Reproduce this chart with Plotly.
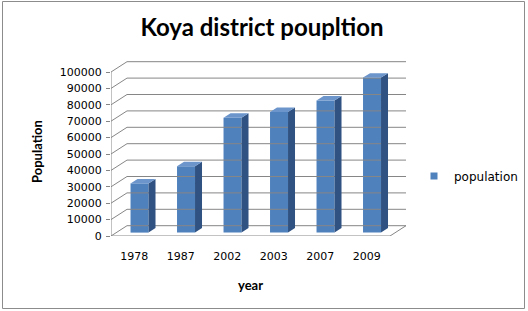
import plotly.graph_objects as go

# ---- data ----
years = ["1978", "1987", "2002", "2003", "2007", "2009"]
population = [30000, 40500, 70000, 73500, 80500, 94500]
y_ticks = list(range(0, 100001, 10000))
series_name = "population"

# ---- geometry (pixels) ----
W, H = 528, 311
L, R, T, B = 111, 122, 61, 75
PW, PH = W - L - R, H - T - B
cat_px = 46.5                      # px per category
unit_px = 0.00164                  # px per population unit
x0 = -0.5
x1 = x0 + PW / cat_px
y1 = PH / unit_px
ddx = 16 / cat_px                  # depth offset (category units)
ddy = 10.3 / unit_px               # depth offset (value units)
n = len(years)

# bar placement inside the depth
f = 0.33
bar_w = 18 / cat_px
side = 0.15
side_dy = side / ddx * ddy

FRONT = "#4F81BD"
SIDE = "#2F5283"
TOP = "#6C95CB"
GRID = "#868686"

def px_x(px):
    return (px - L) / PW

def px_y(py):
    return (H - B - py) / PH

fig = go.Figure()

# walls / gridlines
gx, gy = [], []
for v in y_ticks:
    gx += [x0, x0 + ddx, n - 0.5 + ddx, None]
    gy += [v, v + ddy, v + ddy, None]
gx += [x0, n - 0.5, n - 0.5 + ddx, None, x0, x0]
gy += [0, 0, ddy, None, 0, y_ticks[-1]]
fig.add_trace(go.Scatter(x=gx, y=gy, mode="lines", line=dict(color=GRID, width=1),
                         hoverinfo="skip", showlegend=False))

# front faces of bars
xs = [i + f * ddx for i in range(n)]
base = f * ddy
fig.add_trace(go.Bar(x=xs, y=population, base=[base] * n, width=bar_w,
                     marker=dict(color=FRONT, line=dict(width=0)),
                     name=series_name, showlegend=False))

# side and top faces
sx, sy, tx, ty = [], [], [], []
for xc, v in zip(xs, population):
    r = xc + bar_w / 2
    l = xc - bar_w / 2
    top = base + v
    sx += [r, r + side, r + side, r, r, None]
    sy += [base, base + side_dy, top + side_dy, top, base, None]
    tx += [l, r, r + side, l + side, l, None]
    ty += [top, top, top + side_dy, top + side_dy, top, None]
fig.add_trace(go.Scatter(x=sx, y=sy, mode="lines", fill="toself", fillcolor=SIDE,
                         line=dict(width=0, color=SIDE), hoverinfo="skip", showlegend=False))
fig.add_trace(go.Scatter(x=tx, y=ty, mode="lines", fill="toself", fillcolor=TOP,
                         line=dict(width=0, color=TOP), hoverinfo="skip", showlegend=False))

# legend entry
fig.add_trace(go.Scatter(x=[None], y=[None], mode="markers", name=series_name,
                         marker=dict(symbol="square", size=7, color=FRONT)))

tick_font = dict(family="DejaVu Sans", size=11, color="#000000")

fig.update_layout(
    width=W, height=H,
    margin=dict(l=L, r=R, t=T, b=B, pad=0, autoexpand=False),
    paper_bgcolor="white", plot_bgcolor="white",
    title=dict(text="<b>Koya district poupltion</b>", x=262 / W, y=1 - 28 / H,
               xanchor="center", yanchor="middle",
               font=dict(family="Lato", size=24, color="#000000")),
    xaxis=dict(range=[x0, x1], tickmode="array", tickvals=list(range(n)), ticktext=years,
               showgrid=False, zeroline=False, showline=False, ticks="", automargin=False,
               tickfont=tick_font, ticklabelstandoff=12, fixedrange=True),
    yaxis=dict(range=[0, y1], tickmode="array", tickvals=y_ticks,
               ticktext=[str(v) for v in y_ticks], automargin=False,
               showgrid=False, zeroline=False, showline=False,
               ticks="outside", ticklen=4, tickcolor=GRID, tickwidth=1,
               tickfont=tick_font, ticklabelstandoff=2, fixedrange=True),
    legend=dict(xref="container", yref="container", x=414 / W, y=1 - 176 / H,
                xanchor="left", yanchor="middle",
                font=dict(family="DejaVu Sans", size=12, color="#000000"),
                bgcolor="rgba(0,0,0,0)", borderwidth=0),
    annotations=[
        dict(text="<b>Population</b>", textangle=-90, xref="paper", yref="paper",
             x=px_x(37), y=px_y(152), xanchor="center", yanchor="middle", showarrow=False,
             font=dict(family="Lato", size=13, color="#000000")),
        dict(text="<b>year</b>", xref="paper", yref="paper",
             x=px_x(250), y=px_y(285), xanchor="center", yanchor="middle", showarrow=False,
             font=dict(family="Lato", size=13, color="#000000")),
    ],
    shapes=[dict(type="rect", xref="paper", yref="paper",
                 x0=px_x(2.5), x1=px_x(524.5), y0=px_y(308.5), y1=px_y(1.5),
                 line=dict(color="#8C8C8C", width=1), fillcolor="rgba(0,0,0,0)", layer="below")],
)

fig.write_html("out.html", config={"displayModeBar": False},
               post_script="document.body.style.margin='0';")
